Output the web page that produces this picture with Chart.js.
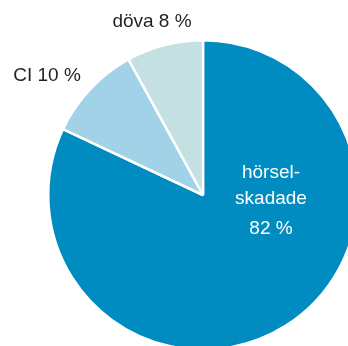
<!DOCTYPE html>
<html><head><meta charset="utf-8">
<script src="https://cdn.jsdelivr.net/npm/chart.js@4/dist/chart.umd.min.js"></script>
<style>html,body{margin:0;padding:0;overflow:hidden;background:#fff;width:348px;height:346px}
canvas{position:absolute;left:0;top:0}</style>
</head><body>
<canvas id="c" width="420" height="420"></canvas>
<script>
const categories = ["hörselskadade", "CI", "döva"];
const values = [82, 10, 8];
const colors = ["#008cc1", "#a2d2e8", "#c5e0e3"];
const labelLines = [["hörsel-", "skadade", "82 %"], ["CI 10 %"], ["döva 8 %"]];

const labelPlugin = {
  id: 'labels',
  afterDatasetsDraw(chart) {
    const ctx = chart.ctx;
    const arc = chart.getDatasetMeta(0).data[0];
    const cx = arc.x, cy = arc.y;
    ctx.save();
    ctx.textAlign = 'center';
    ctx.textBaseline = 'alphabetic';
    ctx.font = '19px "Liberation Sans", Arial, sans-serif';
    ctx.fillStyle = '#ffffff';
    const inner = labelLines[0];
    const offs = [-17, 9, 39];
    inner.forEach((t, i) => ctx.fillText(t, cx + 68, cy + offs[i]));
    ctx.fillStyle = '#231f20';
    ctx.fillText(labelLines[1][0], cx - 156, cy - 114);
    ctx.fillText(labelLines[2][0], cx - 51, cy - 168);
    ctx.restore();
  }
};

new Chart(document.getElementById('c'), {
  type: 'pie',
  data: {
    labels: categories,
    datasets: [{
      data: values,
      backgroundColor: colors,
      borderColor: '#ffffff',
      borderWidth: 2.5
    }]
  },
  options: {
    responsive: false,
    animation: false,
    layout: { padding: { left: 47, right: 61, top: 39, bottom: 69 } },
    plugins: { legend: { display: false }, tooltip: { enabled: false } }
  },
  plugins: [labelPlugin]
});
</script>
</body></html>
